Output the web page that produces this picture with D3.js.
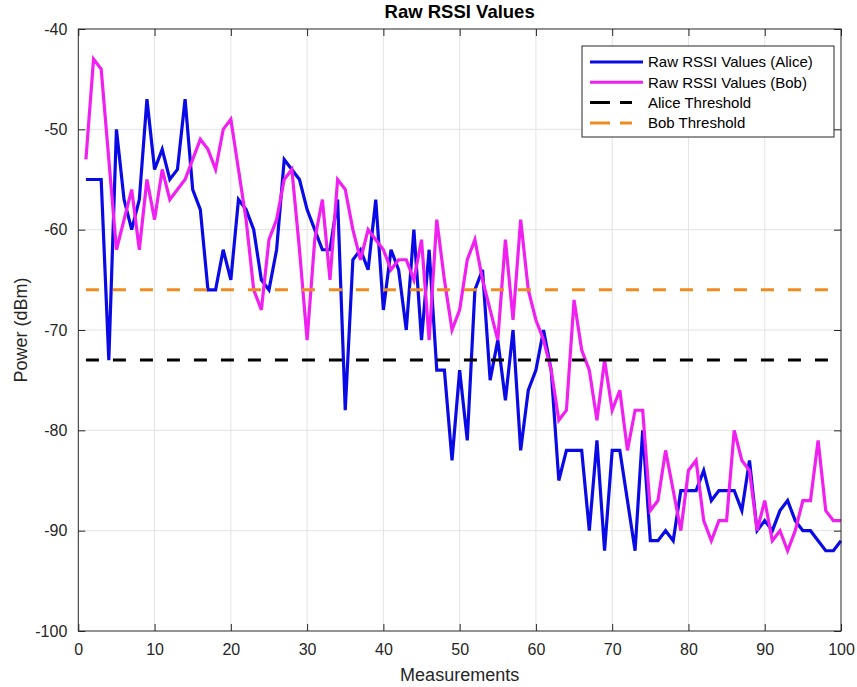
<!DOCTYPE html>
<html>
<head>
<meta charset="utf-8">
<script src="https://cdn.jsdelivr.net/npm/d3@7"></script>
<style>
  html, body { margin: 0; padding: 0; background: #fff; }
  svg { display: block; font-family: "Liberation Sans", Arial, Helvetica, sans-serif; }
</style>
</head>
<body>
<svg id="chart" width="857" height="687"></svg>
<script>
// Measurement index 1..100
const measurements = d3.range(1, 101);

// Raw RSSI readings (dBm)
const aliceRSSI = [
  -55, -55, -55, -73, -50, -57, -60, -57, -47, -54,
  -52, -55, -54, -47, -56, -58, -66, -66, -62, -65,
  -57, -58, -60, -65, -66, -62, -53, -54, -55, -58,
  -60, -62, -62, -57, -78, -63, -62, -64, -57, -68,
  -62, -64, -70, -60, -71, -62, -74, -74, -83, -74,
  -81, -66, -64, -75, -71, -77, -70, -82, -76, -74,
  -70, -74, -85, -82, -82, -82, -90, -81, -92, -82,
  -82, -87, -92, -80, -91, -91, -90, -91, -86, -86,
  -86, -84, -87, -86, -86, -86, -88, -83, -90, -89,
  -90, -88, -87, -89, -90, -90, -91, -92, -92, -91
];
const bobRSSI = [
  -53, -43, -44, -53, -62, -59, -56, -62, -55, -59,
  -54, -57, -56, -55, -53, -51, -52, -54, -50, -49,
  -54, -59, -66, -68, -61, -59, -55, -54, -62, -71,
  -61, -57, -65, -55, -56, -60, -63, -60, -61, -62,
  -64, -63, -63, -65, -61, -71, -59, -65, -70, -68,
  -63, -61, -65, -68, -71, -61, -69, -59, -66, -69,
  -71, -74, -79, -78, -67, -72, -74, -79, -73, -78,
  -76, -82, -78, -78, -88, -87, -82, -86, -90, -84,
  -83, -89, -91, -89, -89, -80, -83, -84, -90, -87,
  -91, -90, -92, -90, -87, -87, -81, -88, -89, -89
];

// Thresholds (dBm)
const aliceThreshold = -73;
const bobThreshold = -66;

// Axis ticks
const xTicks = d3.range(0, 101, 10);
const yTicks = d3.range(-100, -39, 10);

const seriesNames = ["Raw RSSI Values (Alice)", "Raw RSSI Values (Bob)", "Alice Threshold", "Bob Threshold"];

const colors = { alice: "#0a0ae6", bob: "#f020f0", aliceTh: "#000000", bobTh: "#ef8c20" };
const axisColor = "#262626";

const margin = { left: 78.3, right: 16, top: 29, bottom: 56 };
const W = 857, H = 687;
const svg = d3.select("#chart");

const x = d3.scaleLinear().domain([0, 100]).range([margin.left, W - margin.right]);
const y = d3.scaleLinear().domain([-100, -40]).range([H - margin.bottom, margin.top]);

const x0 = x.range()[0], x1 = x.range()[1], y0 = y.range()[0], y1 = y.range()[1];

// Grid
const grid = svg.append("g");
grid.selectAll(".gx").data(xTicks.slice(1, -1)).join("line")
  .attr("x1", d => x(d)).attr("x2", d => x(d)).attr("y1", y1).attr("y2", y0)
  .attr("stroke", "#e3e3e3").attr("stroke-width", 1);
grid.selectAll(".gy").data(yTicks.slice(1, -1)).join("line")
  .attr("y1", d => y(d)).attr("y2", d => y(d)).attr("x1", x0).attr("x2", x1)
  .attr("stroke", "#e3e3e3").attr("stroke-width", 1);

// Series
const line = d3.line().x((d, i) => x(measurements[i])).y(d => y(d));
svg.append("path").datum(aliceRSSI).attr("d", line)
  .attr("fill", "none").attr("stroke", colors.alice).attr("stroke-width", 3.2).attr("stroke-linejoin", "miter");
svg.append("path").datum(bobRSSI).attr("d", line)
  .attr("fill", "none").attr("stroke", colors.bob).attr("stroke-width", 3.2).attr("stroke-linejoin", "miter");

// Threshold lines
const first = measurements[0], last = measurements[measurements.length - 1];
svg.append("line")
  .attr("x1", x(first)).attr("x2", x(last)).attr("y1", y(aliceThreshold)).attr("y2", y(aliceThreshold))
  .attr("stroke", colors.aliceTh).attr("stroke-width", 3).attr("stroke-dasharray", "13 14");
svg.append("line")
  .attr("x1", x(first)).attr("x2", x(last)).attr("y1", y(bobThreshold)).attr("y2", y(bobThreshold))
  .attr("stroke", colors.bobTh).attr("stroke-width", 3).attr("stroke-dasharray", "13 14");

// Axes (box with inward ticks on all sides)
const tickLen = 7;
const fmt = d => String(d);
const axes = svg.append("g");
axes.append("rect").attr("x", x0).attr("y", y1).attr("width", x1 - x0).attr("height", y0 - y1)
  .attr("fill", "none").attr("stroke", axisColor).attr("stroke-width", 1);

const xAxis = d3.axisBottom(x).tickValues(xTicks).tickFormat(fmt).tickSize(-tickLen).tickPadding(tickLen + 6);
const gx = axes.append("g").attr("transform", `translate(0,${y0})`).call(xAxis);
const gxTop = axes.append("g").attr("transform", `translate(0,${y1})`)
  .call(d3.axisTop(x).tickValues(xTicks).tickSize(-tickLen).tickFormat(""));
const yAxis = d3.axisLeft(y).tickValues(yTicks).tickFormat(fmt).tickSize(-tickLen).tickPadding(tickLen + 4);
const gy = axes.append("g").attr("transform", `translate(${x0},0)`).call(yAxis);
const gyRight = axes.append("g").attr("transform", `translate(${x1},0)`)
  .call(d3.axisRight(y).tickValues(yTicks).tickSize(-tickLen).tickFormat(""));

[gx, gxTop, gy, gyRight].forEach(g => {
  g.select(".domain").remove();
  g.selectAll(".tick line").attr("stroke", axisColor);
  g.selectAll(".tick text").attr("fill", axisColor).style("font-size", "16px");
});

// Labels
svg.append("text").attr("x", (x0 + x1) / 2).attr("y", 18)
  .attr("text-anchor", "middle").attr("font-weight", "bold").style("font-size", "18.5px")
  .attr("fill", "#000").text("Raw RSSI Values");
svg.append("text").attr("x", (x0 + x1) / 2).attr("y", 681)
  .attr("text-anchor", "middle").style("font-size", "18px")
  .attr("fill", axisColor).text("Measurements");
svg.append("text").attr("transform", `translate(27,${(y0 + y1) / 2}) rotate(-90)`)
  .attr("text-anchor", "middle").style("font-size", "18px")
  .attr("fill", axisColor).text("Power (dBm)");

// Legend
const legend = svg.append("g").attr("transform", "translate(582,46)");
legend.append("rect").attr("width", 252).attr("height", 91)
  .attr("fill", "#fff").attr("stroke", axisColor).attr("stroke-width", 1);
const legendItems = [
  { name: seriesNames[0], color: colors.alice, dash: null },
  { name: seriesNames[1], color: colors.bob, dash: null },
  { name: seriesNames[2], color: colors.aliceTh, dash: "20 10" },
  { name: seriesNames[3], color: colors.bobTh, dash: "20 10" }
];
const rows = legend.selectAll(".row").data(legendItems).join("g")
  .attr("transform", (d, i) => `translate(0,${16 + i * 20.3})`);
rows.append("line").attr("x1", 8).attr("x2", d => d.dash ? 50 : 61).attr("y1", 0).attr("y2", 0)
  .attr("stroke", d => d.color).attr("stroke-width", 3)
  .attr("stroke-dasharray", d => d.dash);
rows.append("text").attr("x", 66).attr("y", 0).attr("dy", "0.35em")
  .style("font-size", "15px").attr("fill", "#000").text(d => d.name);
</script>
</body>
</html>
